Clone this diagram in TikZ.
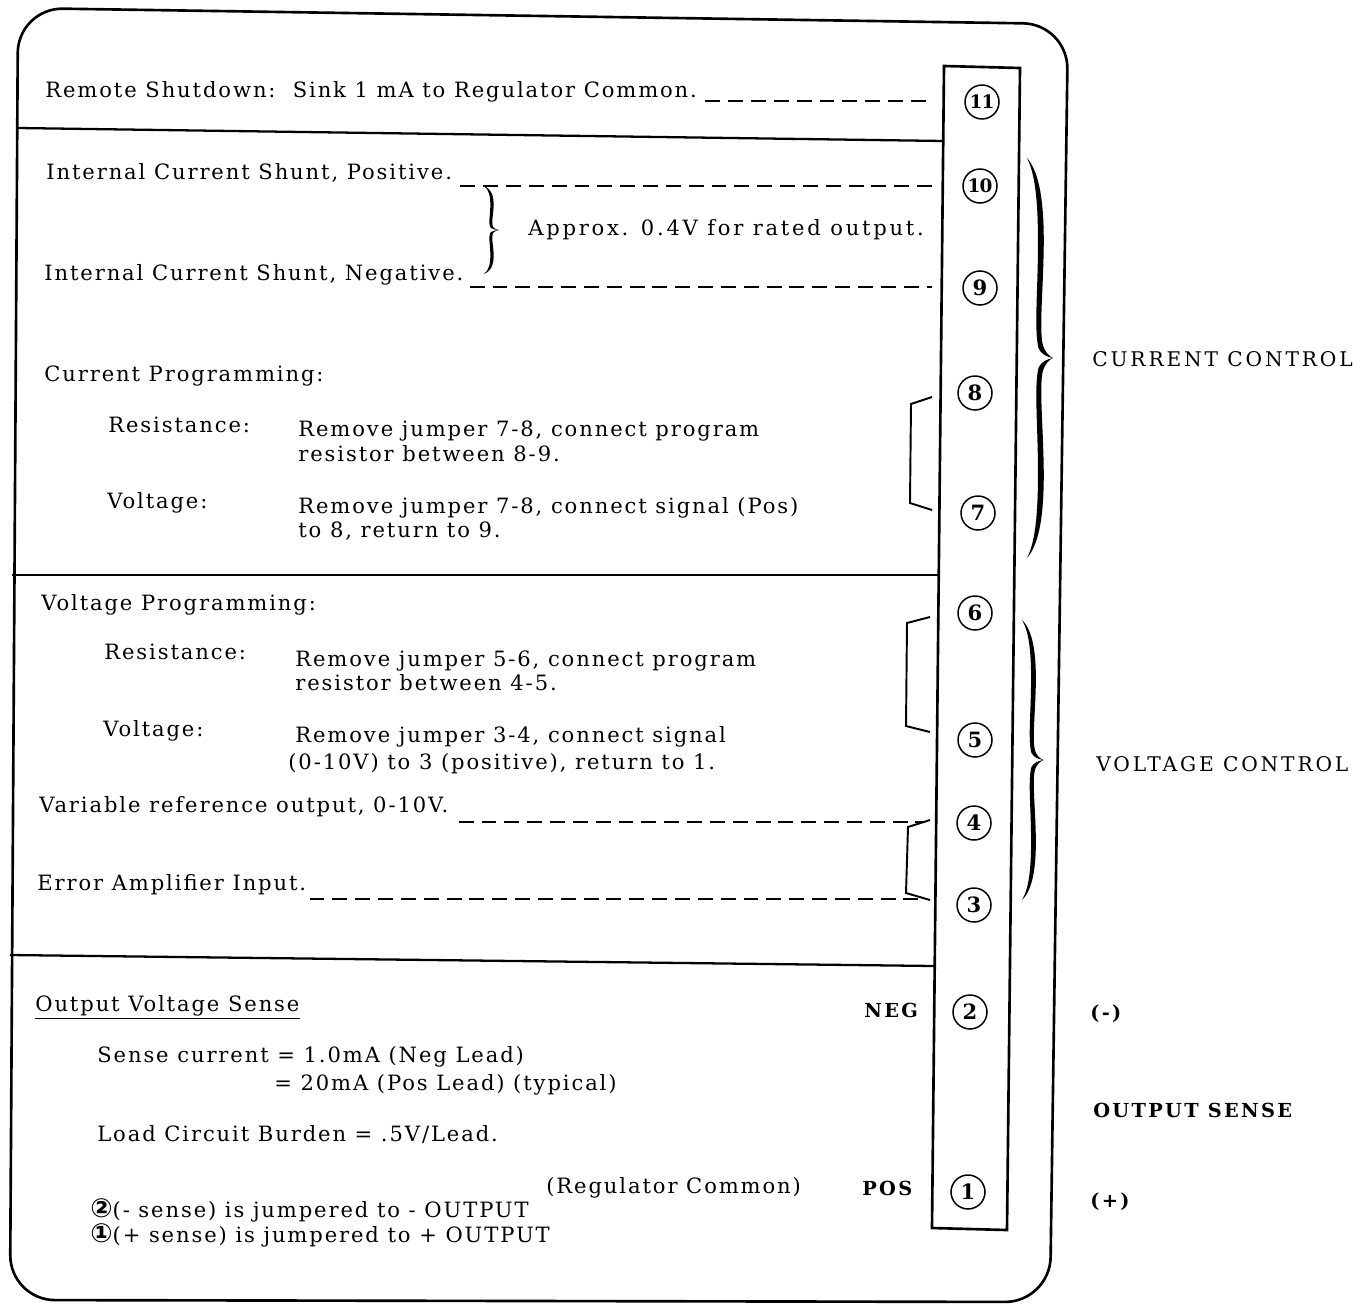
\documentclass[tikz,border=0pt]{standalone}
\usepackage{fontspec}
\usetikzlibrary{calc}
\setmainfont{DejaVu Serif}[LetterSpace=9]
\newfontfamily\symfont{DejaVu Sans}
\tikzset{
  bigbrace/.pic={
    \fill (0,0) .. controls (12,14) and (17,45) .. (16,95)
      .. controls (15,140) and (12,170) .. (15,186)
      .. controls (17,194) and (21,198) .. (25,200)
      .. controls (21,202) and (17,206) .. (15,214)
      .. controls (12,230) and (15,260) .. (16,305)
      .. controls (17,355) and (12,386) .. (0,400)
      .. controls (8,384) and (11,355) .. (10.5,305)
      .. controls (10,262) and (7,228) .. (11,210)
      .. controls (14,203) and (20,201) .. (25,200)
      .. controls (20,199) and (14,197) .. (11,190)
      .. controls (7,172) and (10,138) .. (10.5,95)
      .. controls (11,45) and (8,16) .. (0,0) -- cycle;
  }
}
\begin{document}
\begin{tikzpicture}[x=0.02cm,y=-0.02cm,
  txt/.style={anchor=mid west, inner sep=0pt, font=\fontsize{12}{14}\selectfont},
  lbl/.style={anchor=mid west, inner sep=0pt, font=\fontsize{11.5}{13}\selectfont\addfontfeatures{LetterSpace=14}},
  blbl/.style={anchor=mid west, inner sep=0pt, font=\fontsize{11}{13}\selectfont\bfseries\addfontfeatures{LetterSpace=12}},
  pin/.style={circle, draw, line width=0.85pt, minimum size=0.68cm, inner sep=0pt, font=\fontsize{12}{14}\selectfont\bfseries\addfontfeatures{LetterSpace=0}},
  pintwo/.style={pin, font=\fontsize{10.5}{12}\selectfont\bfseries\addfontfeatures{LetterSpace=-4}},
  dashline/.style={line width=0.9pt, dash pattern=on 8.5pt off 4.5pt},
  bracket/.style={line width=1.1pt},
  frame/.style={line width=1.5pt, rounded corners=0.9cm},
  divider/.style={line width=1.3pt},
  strip/.style={line width=1.5pt}]
\useasboundingbox (0,0) rectangle (1366,1312);

% outer frame
\draw[frame] (18,8) -- (1068,24) -- (1050,1302) -- (10,1300) -- cycle;
% terminal strip
\draw[strip] (944,66) -- (1020,68) -- (1007,1230) -- (932,1228) -- cycle;
% dividers
\draw[divider] (18,128) -- (944,141);
\draw[divider] (12,575) -- (939,575);
\draw[divider] (10,955) -- (935,966);

% terminals
\node[pintwo] (t11) at (982,102) {11};
\node[pintwo] (t10) at (980,186) {10};
\node[pin] (t9)  at (980,288) {9};
\node[pin] (t8)  at (975,393) {8};
\node[pin] (t7)  at (978,513) {7};
\node[pin] (t6)  at (975,613) {6};
\node[pin] (t5)  at (975,740) {5};
\node[pin] (t4)  at (974,823) {4};
\node[pin] (t3)  at (974,905) {3};
\node[pin] (t2)  at (970,1012) {2};
\node[pin] (t1)  at (968,1192) {1};

% section 11
\node[txt] (rs) at (45,93) {Remote Shutdown:\ \ Sink 1 mA to Regulator Common.};
\coordinate (e11) at (928,101);
\draw[dashline] ($(rs.east |- e11)+(8,0)$) -- (e11);

% shunt
\node[txt] (is1) at (46,175) {Internal Current Shunt, Positive.};
\node[txt] (is2) at (44,276) {Internal Current Shunt, Negative.};
\coordinate (e10) at (932,186);
\coordinate (e9) at (932,287);
\draw[dashline] ($(is1.east |- e10)+(8,0)$) -- (e10);
\draw[dashline] ($(is2.east |- e9)+(6,0)$) -- (e9);
\path (484,186) pic[xscale=0.6,yscale=0.22] {bigbrace};
\node[txt, font=\fontsize{12}{14}\selectfont\addfontfeatures{LetterSpace=13}] (apx) at (528,231) {Approx. 0.4V for rated output.};

% current programming
\node[txt] (cp) at (44,377) {Current Programming:};
\node[txt] (r1a) at (108,428) {Resistance:};
\node[txt] (r1b) at (298,432) {Remove jumper 7-8, connect program};
\node[txt] (r1c) at (298,457) {resistor between 8-9.};
\node[txt] (v1a) at (107,504) {Voltage:};
\node[txt] (v1b) at (298,509) {Remove jumper 7-8, connect signal (Pos)};
\node[txt] (v1c) at (298,533) {to 8, return to 9.};
\draw[bracket] (932,397) -- (911,404) -- (910,503) -- (932,510);

% voltage programming
\node[txt] (vp) at (41,606) {Voltage Programming:};
\node[txt] (r2a) at (104,655) {Resistance:};
\node[txt] (r2b) at (295,662) {Remove jumper 5-6, connect program};
\node[txt] (r2c) at (295,686) {resistor between 4-5.};
\node[txt] (v2a) at (103,732) {Voltage:};
\node[txt] (v2b) at (295,738) {Remove jumper 3-4, connect signal};
\node[txt] (v2c) at (288,765) {(0-10V) to 3 (positive), return to 1.};
\draw[bracket] (930,617) -- (907,623) -- (906,726) -- (930,732);

\node[txt] (vr) at (39,808) {Variable reference output, 0-10V.};
\node[txt] (ea) at (37,886) {Error Amplifier Input.};
\coordinate (e4) at (924,822);
\coordinate (e3) at (924,899);
\draw[dashline] ($(vr.east |- e4)+(10,0)$) -- (e4);
\draw[dashline] ($(ea.east |- e3)+(3,0)$) -- (e3);
\draw[bracket] (930,820) -- (908,827) -- (906,893) -- (930,900);

% big braces
\path (1027,158) pic[xscale=1.04,yscale=1] {bigbrace};
\path (1022,620) pic[xscale=0.86,yscale=0.7] {bigbrace};
\node[lbl] (cc) at (1092,362) {CURRENT CONTROL};
\node[lbl] (vc) at (1096,767) {VOLTAGE CONTROL};

% output sense
\node[txt] (ovs) at (35,1007) {Output Voltage Sense};
\draw[line width=0.9pt] ([yshift=-4pt]ovs.base west) -- ([yshift=-4pt]ovs.base east);
\node[blbl] (neg) at (864,1013) {NEG};
\node[txt] (sc1) at (97,1058) {Sense current = 1.0mA (Neg Lead)};
\node[txt] (sc2) at (274,1086) {= 20mA (Pos Lead) (typical)};
\node[txt] (lcb) at (97,1137) {Load Circuit Burden = .5V/Lead.};
\node[txt] (rc) at (546,1189) {(Regulator Common)};
\node[blbl] (pos) at (862,1191) {POS};
\node[txt] (j2) at (90,1213) {{\symfont\bfseries\fontsize{15}{14}\selectfont ②}(- sense) is jumpered to - OUTPUT};
\node[txt] (j1) at (90,1238) {{\symfont\bfseries\fontsize{15}{14}\selectfont ①}(+ sense) is jumpered to + OUTPUT};
\node[blbl] (mn) at (1090,1015) {(-)};
\node[blbl] (os) at (1093,1113) {OUTPUT SENSE};
\node[blbl] (pl) at (1090,1203) {(+)};
\end{tikzpicture}
\end{document}
